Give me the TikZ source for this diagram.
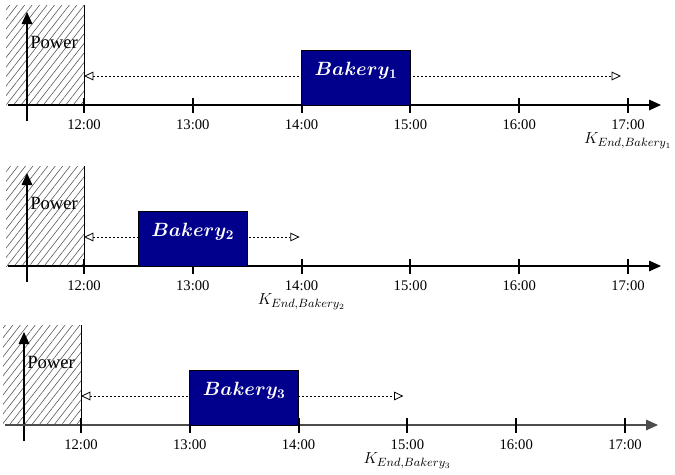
\documentclass[tikz,border=0pt]{standalone}
\usepackage{amsmath,bm}
\usepackage{fontspec}
\setmainfont{Liberation Serif}
\usetikzlibrary{arrows.meta,patterns.meta,fit}

\definecolor{bakeryblue}{RGB}{0,0,140}

\tikzset{
  axisline/.style={line width=0.8pt,-{Triangle[length=9pt,width=8pt]}},
  tickmark/.style={line width=1.6pt},
  ticklabel/.style={font=\fontsize{11}{13}\selectfont,inner sep=0pt},
  powerlabel/.style={font=\fontsize{14}{16}\selectfont,inner sep=0pt,anchor=west},
  window/.style={line width=0.6pt,dash pattern=on 1.6pt off 1.4pt,
    {Triangle[open,length=7pt,width=6.5pt]}-{Triangle[open,length=7pt,width=6.5pt]}},
  bakerybox/.style={draw=black,line width=0.5pt,fill=bakeryblue,text=white,
    inner sep=0pt,font=\fontsize{14}{16}\selectfont},
  endlabel/.style={font=\fontsize{13}{15}\selectfont,inner sep=0pt},
  hatch/.style={pattern={Lines[angle=52,distance=4.4pt,line width=0.45pt]},pattern color=black!65},
}

% One timeline: #1 suffix, #2 x of 12:00, #3 y of the time axis, #4 colour of the time axis,
% #5 start of the baking slot (hours after 12:00), #6 end of the window (hours after 12:00),
% #7 length of the arrow short of the end tick, #8 baker index
\newcommand\bakerypanel[8]{%
\begin{scope}[shift={(#2,#3)}]
  % blocked power region before 12:00
  \fill[hatch] (-78,0) rectangle (0,-100);
  \coordinate (ptop#1) at (0,-100);
  \coordinate (pbot#1) at (0,0);
  \draw[line width=0.6pt] (ptop#1) -- (pbot#1);
  % axes
  \coordinate (vs#1) at (-57,16);
  \coordinate (ve#1) at (-57,-93);
  \draw[axisline] (vs#1) -- (ve#1);
  \coordinate (hs#1) at (-76,0);
  \coordinate (he#1) at (577,0);
  \draw[axisline,draw=#4,fill=#4] (hs#1) -- (he#1);
  \node[powerlabel] (power#1) at (-54,-63) {Power};
  % hour ticks
  \foreach \h [count=\i from 0] in {12,...,17} {
    \coordinate (ta#1\h) at (\i*108.8,-7);
    \coordinate (tb#1\h) at (\i*108.8,8);
    \draw[tickmark] (ta#1\h) -- (tb#1\h);
    \node[ticklabel] (tl#1\h) at (\i*108.8,20) {\h:00};
  }
  % feasible window and the scheduled slot
  \coordinate (ws#1) at (0,-29);
  \coordinate (we#1) at (#6*108.8-#7,-29);
  \draw[window] (ws#1) -- (we#1);
  \coordinate (bsw#1) at (#5*108.8,0);
  \coordinate (bne#1) at (#5*108.8+108.8,-55);
  \node[bakerybox,fit=(bsw#1)(bne#1)] (box#1) {$\boldsymbol{Bakery_{#8}}$};
  \node[endlabel] (k#1) at (#6*108.8,36) {$K_{End,Bakery_{#8}}$};
\end{scope}}

\begin{document}
\begin{tikzpicture}[x=0.75pt,y=-0.75pt]
  \useasboundingbox (0,0) rectangle (675,475);
  \bakerypanel{a}{84}{105}{black}{2}{5}{7}{1}
  \bakerypanel{b}{84}{266}{black}{0.5}{2}{2}{2}
  \bakerypanel{c}{81}{425}{black!70}{1}{3}{4}{3}
\end{tikzpicture}
\end{document}
